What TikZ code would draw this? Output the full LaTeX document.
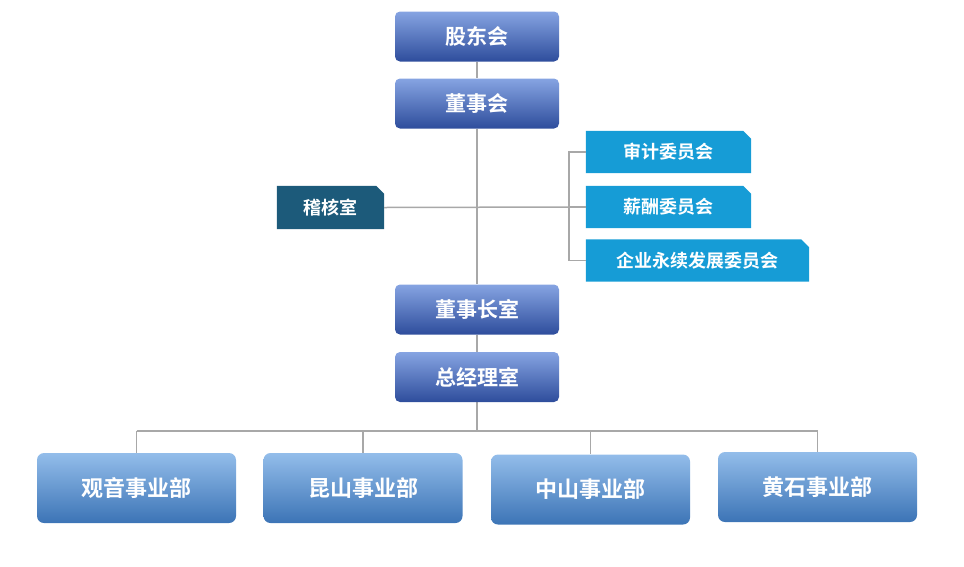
\documentclass[tikz,border=0pt]{standalone}
\usepackage{fontspec}
\newfontfamily\cjk{Noto Sans CJK SC}[BoldFont={Noto Sans CJK SC Bold}]
\usetikzlibrary{backgrounds}
\definecolor{lnc}{HTML}{A8A8A8}
\definecolor{topA}{HTML}{86A4E2}
\definecolor{topB}{HTML}{2E4D9C}
\definecolor{botA}{HTML}{93BDEA}
\definecolor{botB}{HTML}{3C74B6}
\definecolor{cmt}{HTML}{169CD6}
\definecolor{aud}{HTML}{1C5A7A}
\tikzset{
 x=1pt,y=-1pt,
 topbox/.style={rounded corners=5pt,top color=topA,bottom color=topB,text=white,font=\cjk\bfseries\fontsize{21}{21}\selectfont,minimum width=164pt,minimum height=50pt,inner sep=0pt},
 botbox/.style={rounded corners=7pt,top color=botA,bottom color=botB,text=white,font=\cjk\bfseries\fontsize{22}{22}\selectfont,minimum width=199pt,minimum height=70pt,inner sep=0pt},
 cutbox/.style={text=white,font=\cjk\bfseries\fontsize{18}{18}\selectfont,minimum height=42pt,inner sep=0pt},
 ln/.style={draw=lnc,line width=1.5pt}
}
\newcommand{\cutfill}[2]{\fill[#2] (#1.south west) -- (#1.north west) -- ([xshift=-8pt]#1.north east) -- ([yshift=-8pt]#1.north east) -- (#1.south east) -- cycle;}
\begin{document}
\begin{tikzpicture}
\useasboundingbox (0,0) rectangle (964,566);
\node[topbox] (gd) at (477,36.5) {股东会};
\node[topbox] (dsh) at (477,103.5) {董事会};
\node[topbox] (dszs) at (477,309.5) {董事长室};
\node[topbox] (zjl) at (477,377) {总经理室};
\node[cutbox,minimum width=165pt] (sj) at (668.5,152) {审计委员会};
\node[cutbox,minimum width=165pt] (xc) at (668.5,207) {薪酬委员会};
\node[cutbox,minimum width=223pt] (qy) at (697.5,260.5) {企业永续发展委员会};
\node[cutbox,minimum width=107pt,minimum height=43pt] (jh) at (330.5,207.5) {稽核室};
\node[botbox] (gy) at (136.5,488) {观音事业部};
\node[botbox] (ks) at (363,488) {昆山事业部};
\node[botbox] (zs) at (590.5,489.5) {中山事业部};
\node[botbox] (hs) at (817.5,487) {黄石事业部};
\coordinate (cj) at (477,207);
\coordinate (br) at (569,207);
\coordinate (bt) at (477,431);
\begin{scope}[on background layer]
\cutfill{sj}{cmt}\cutfill{xc}{cmt}\cutfill{qy}{cmt}\cutfill{jh}{aud}
\draw[ln] (gd) -- (dsh);
\draw[ln] (dsh) -- (dszs);
\draw[ln] (dszs) -- (zjl);
\draw[ln] (jh.east) -- (br);
\draw[ln] (sj.west) -| (br) |- (qy.west);
\draw[ln] (br) -- (xc.west);
\draw[ln] (zjl) -- (bt);
\draw[ln] (gy.north |- bt) -- (hs.north |- bt);
\foreach \b in {gy,ks,zs,hs} \draw[ln] (\b.north |- bt) -- (\b.north);
\end{scope}
\end{tikzpicture}
\end{document}
